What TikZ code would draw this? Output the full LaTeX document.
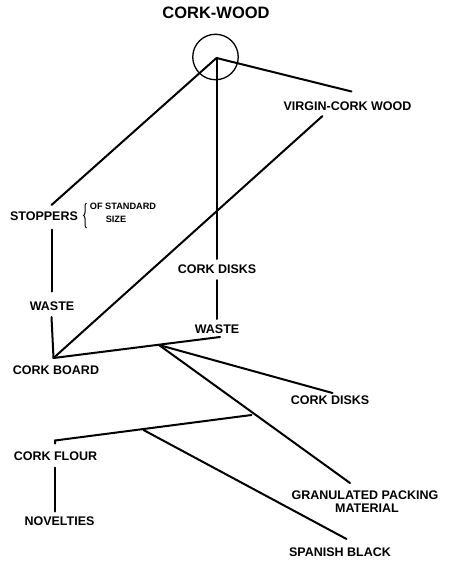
\documentclass[tikz,border=0pt]{standalone}
\usepackage{fontspec}
\setmainfont{Liberation Sans}
\usetikzlibrary{decorations.pathreplacing}
\begin{document}
\begin{tikzpicture}[x=1pt,y=-1pt,
  lbl/.style={inner sep=0pt,font=\bfseries\fontsize{12.5}{14}\selectfont},
  small/.style={inner sep=0pt,font=\bfseries\fontsize{9.2}{10}\selectfont},
  ln/.style={line width=2pt,line cap=round}]
\useasboundingbox (0,0) rectangle (450,565);
% labels
\node[inner sep=0pt,font=\bfseries\fontsize{16.5}{18}\selectfont] (title) at (216,13) {CORK-WOOD};
\node[lbl] (virgin) at (347.5,106) {VIRGIN-CORK WOOD};
\node[lbl] (stoppers) at (44,216) {STOPPERS};
\node[small] (ofstd) at (123,206.5) {OF STANDARD};
\node[small] (size) at (116,219) {SIZE};
\node[lbl] (waste1) at (52,306.5) {WASTE};
\node[lbl] (board) at (56,370) {CORK BOARD};
\node[lbl] (disks1) at (217,269) {CORK DISKS};
\node[lbl] (waste2) at (217,329) {WASTE};
\node[lbl] (disks2) at (330,400.5) {CORK DISKS};
\node[lbl] (gran) at (365,495) {GRANULATED PACKING};
\node[lbl] (mat) at (367,508.5) {MATERIAL};
\node[lbl] (flour) at (55.5,456) {CORK FLOUR};
\node[lbl] (novel) at (59.5,521.5) {NOVELTIES};
\node[lbl] (spanish) at (340,552.5) {SPANISH BLACK};
% circle
\node[draw,circle,line width=1.3pt,minimum size=45.5pt,inner sep=0pt] (ring) at (215.5,57) {};
% coordinates
\coordinate (hub) at (216.5,58);
\coordinate (vEnd) at (351.5,91.5);
\coordinate (vStart) at (322.5,116);
\coordinate (sEnd) at (51.5,205);
\coordinate (sDown) at (51.5,229.5);
\coordinate (w1Top) at (51.5,291.5);
\coordinate (w1Bot) at (51.5,317);
\coordinate (corner) at (53.5,358);
\coordinate (d1Top) at (216.5,259);
\coordinate (d1Bot) at (216.5,280);
\coordinate (w2Top) at (216.5,319);
\coordinate (w2End) at (220,337);
\coordinate (br) at (159,345);
\coordinate (d2End) at (332.5,393);
\coordinate (gEnd) at (350,483);
\coordinate (fBr) at (251.5,415);
\coordinate (fEnd) at (55,440.5);
\coordinate (fHook) at (55,443.5);
\coordinate (spBr) at (143.5,430);
\coordinate (spEnd) at (346.5,539);
\coordinate (fDown) at (55,467.5);
\coordinate (nTop) at (55,511.5);
% connectors
\draw[ln] (hub) -- (vEnd);
\draw[ln] (hub) -- (sEnd);
\draw[ln] (hub) -- (d1Top);
\draw[ln] (d1Bot) -- (w2Top);
\draw[ln] (sDown) -- (w1Top);
\draw[ln] (w1Bot) -- (corner);
\draw[ln] (vStart) -- (corner);
\draw[ln] (corner) -- (w2End);
\draw[ln] (br) -- (d2End);
\draw[ln] (br) -- (gEnd);
\draw[ln] (fHook) -- (fEnd) -- (fBr);
\draw[ln] (spBr) -- (spEnd);
\draw[ln] (fDown) -- (nTop);
% brace
\draw[line width=1pt,decorate,decoration={brace,amplitude=3pt}] (86.5,228) -- (86.5,203);
\end{tikzpicture}
\end{document}
